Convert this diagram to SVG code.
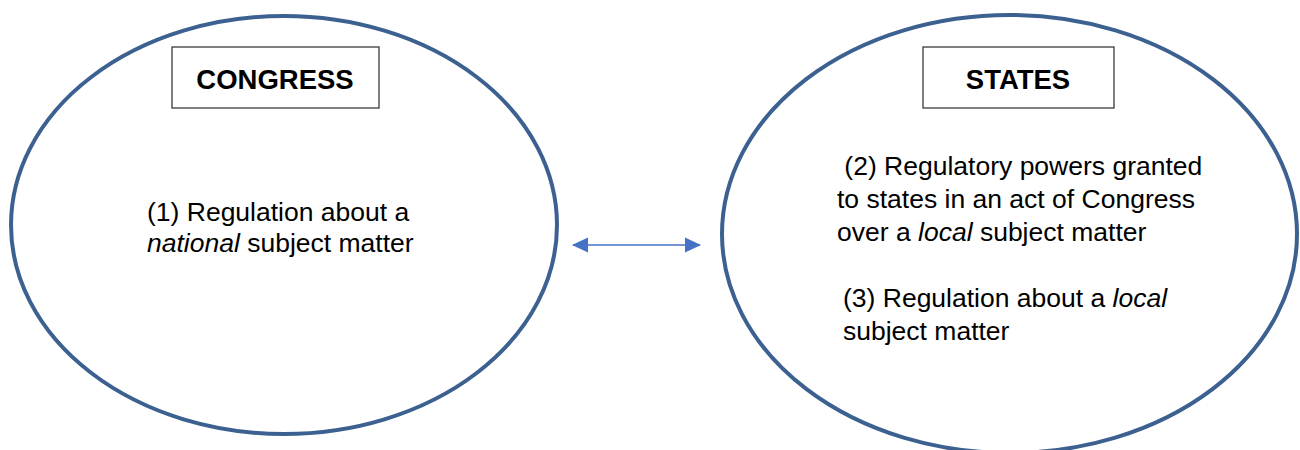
<svg xmlns="http://www.w3.org/2000/svg" width="1300" height="450" viewBox="0 0 1300 450">
  <style>
    .oval { fill: #ffffff; stroke: #3C6191; stroke-width: 4; }
    .box { fill: #ffffff; stroke: #3a3a3a; stroke-width: 1.3; }
    .title { font-family: "Liberation Sans", Arial, sans-serif; font-weight: bold; font-size: 27.5px; fill: #000; text-anchor: middle; }
    .body { font-family: "Liberation Sans", Arial, sans-serif; font-size: 26.5px; fill: #000; }
    .conn { stroke: #4472C4; stroke-width: 1.5; fill: none; }
  </style>
  <defs>
    <marker id="ah" viewBox="0 0 16 16" refX="15" refY="8" markerWidth="16" markerHeight="16" markerUnits="userSpaceOnUse" orient="auto-start-reverse">
      <path d="M0,0.5 L16,8 L0,15.5 Z" fill="#4472C4"/>
    </marker>
  </defs>
  <rect width="1300" height="450" fill="#ffffff"/>

  <g id="congress">
    <ellipse class="oval" cx="284" cy="225" rx="273" ry="209"/>
    <rect class="box" x="172" y="47" width="207" height="61"/>
    <text class="title" x="275" y="89">CONGRESS</text>
    <text class="body" x="147" y="221">(1) Regulation about a</text>
    <text class="body" x="147" y="252"><tspan font-style="italic">national</tspan> subject matter</text>
  </g>

  <g id="states">
    <ellipse class="oval" cx="1009.5" cy="234" rx="287.5" ry="219"/>
    <rect class="box" x="923" y="47" width="191" height="61"/>
    <text class="title" x="1018" y="89">STATES</text>
    <text class="body" x="837" y="175" xml:space="preserve"> (2) Regulatory powers granted</text>
    <text class="body" x="837" y="208">to states in an act of Congress</text>
    <text class="body" x="837" y="241">over a <tspan font-style="italic">local</tspan> subject matter</text>
    <text class="body" x="843" y="307">(3) Regulation about a <tspan font-style="italic">local</tspan></text>
    <text class="body" x="843" y="340">subject matter</text>
  </g>

  <g id="connectors">
    <line class="conn" x1="573" y1="245" x2="700" y2="245" marker-start="url(#ah)" marker-end="url(#ah)"/>
  </g>
</svg>
